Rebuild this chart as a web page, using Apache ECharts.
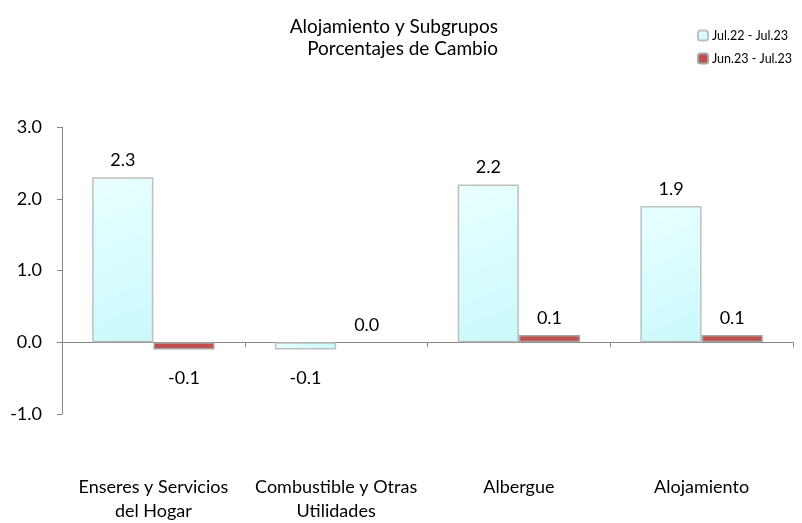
<!DOCTYPE html>
<html>
<head>
<meta charset="utf-8">
<script src="https://cdn.jsdelivr.net/npm/echarts@6/dist/echarts.min.js"></script>
<style>
  html, body { margin: 0; padding: 0; background: #fff; }
  #chart { width: 802px; height: 523px; }
</style>
</head>
<body>
<div id="chart"></div>
<script>
const categories = ['Enseres y Servicios\ndel Hogar', 'Combustible y Otras\nUtilidades', 'Albergue', 'Alojamiento'];
const anual = [2.3, -0.1, 2.2, 1.9];
const mensual = [-0.1, 0.0, 0.1, 0.1];
const seriesNames = ['Jul.22 - Jul.23', 'Jun.23 - Jul.23'];

const font = 'Lato, "Open Sans", sans-serif';

// etiqueta arriba o abajo segun el signo; sin borde si el valor es cero
const withLabels = (arr) => arr.map((v) => ({
  value: v,
  label: {
    position: v < 0 ? 'bottom' : 'top',
    distance: v < 0 ? 20 : 8,
  },
  itemStyle: v === 0 ? { borderWidth: 0 } : {},
}));

const chart = echarts.init(document.getElementById('chart'));
chart.setOption({
  animation: false,
  title: {
    text: 'Alojamiento y Subgrupos\nPorcentajes de Cambio',
    left: 493,
    top: 11,
    textAlign: 'right',
    textStyle: {
      fontFamily: font,
      fontSize: 19,
      fontWeight: 'normal',
      color: '#000',
      lineHeight: 22,
    },
  },
  legend: {
    orient: 'vertical',
    left: 692,
    top: 24,
    itemWidth: 10,
    itemHeight: 10,
    itemGap: 10,
    data: seriesNames,
    textStyle: { fontFamily: font, fontSize: 12.5, color: '#000', padding: [0, 0, 0, -1] },
  },
  grid: { left: 62, right: 9, top: 127, bottom: 106 },
  xAxis: [
    {
      // eje en cero: linea y marcas
      type: 'category',
      data: categories,
      axisLine: { onZero: true, lineStyle: { color: '#868686', width: 1 } },
      axisTick: { show: true, length: 5, lineStyle: { color: '#868686' } },
      axisLabel: { show: false },
    },
    {
      // solo las etiquetas, abajo
      type: 'category',
      data: categories,
      position: 'bottom',
      axisLine: { show: false, onZero: false },
      axisTick: { show: false },
      axisLabel: {
        margin: 61,
        fontFamily: font,
        fontSize: 18,
        color: '#000',
        lineHeight: 24,
        interval: 0,
      },
    },
  ],
  yAxis: {
    type: 'value',
    min: -1,
    max: 3,
    interval: 1,
    axisLine: { show: true, lineStyle: { color: '#868686', width: 1 } },
    axisTick: { show: true, length: 5, lineStyle: { color: '#868686' } },
    splitLine: { show: false },
    axisLabel: {
      margin: 20,
      fontFamily: font,
      fontSize: 18,
      color: '#000',
      formatter: (v) => v.toFixed(1),
    },
  },
  series: [
    {
      name: seriesNames[0],
      type: 'bar',
      xAxisIndex: 0,
      data: withLabels(anual),
      barGap: '0%',
      barCategoryGap: '33%',
      itemStyle: {
        color: new echarts.graphic.LinearGradient(0, 0, 1, 1, [
          { offset: 0, color: '#e9ffff' },
          { offset: 1, color: '#c9f9fc' },
        ]),
        borderColor: '#bfbfbf',
        borderWidth: 1.5,
      },
      label: {
        show: true,
        fontFamily: font,
        fontSize: 18,
        color: '#000',
        formatter: (p) => p.value.toFixed(1),
      },
    },
    {
      name: seriesNames[1],
      type: 'bar',
      xAxisIndex: 0,
      data: withLabels(mensual),
      itemStyle: {
        color: '#c0504d',
        borderColor: '#a6a6a6',
        borderWidth: 1.5,
      },
      label: {
        show: true,
        fontFamily: font,
        fontSize: 18,
        color: '#000',
        formatter: (p) => p.value.toFixed(1),
      },
    },
  ],
});
</script>
</body>
</html>
